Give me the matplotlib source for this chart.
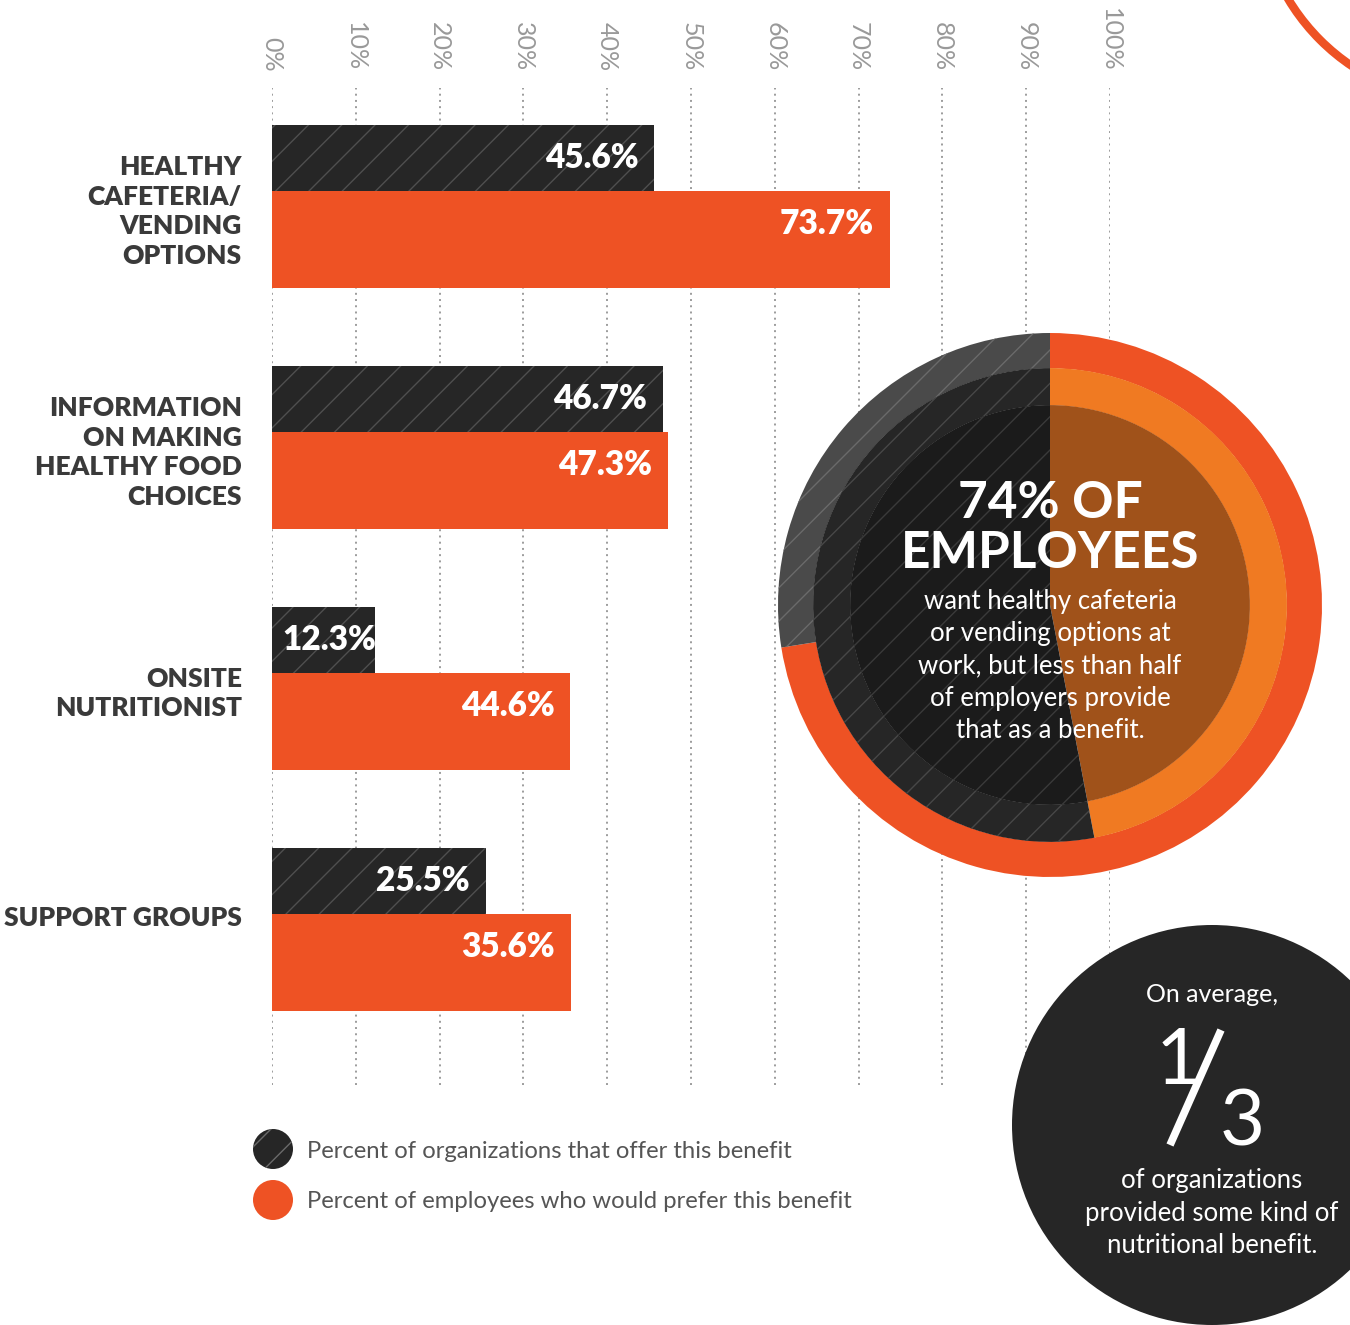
import numpy as np
import matplotlib.pyplot as plt
from matplotlib.patches import Circle

plt.rcParams['font.family'] = ['Lato', 'DejaVu Sans']
plt.rcParams['hatch.linewidth'] = 1.0

# data
categories = ['HEALTHY\nCAFETERIA/\nVENDING\nOPTIONS',
              'INFORMATION\nON MAKING\nHEALTHY FOOD\nCHOICES',
              'ONSITE\nNUTRITIONIST',
              'SUPPORT GROUPS']
org_pct = [45.6, 46.7, 12.3, 25.5]
# bar lengths as drawn in the picture (the onsite bar is drawn shorter than its label)
emp_pct = [73.7, 47.3, 35.6, 35.7]
org_labels = ['45.6%', '46.7%', '12.3%', '25.5%']
emp_labels = ['73.7%', '47.3%', '44.6%', '35.6%']
ticks = list(range(0, 101, 10))
tick_labels = [f'{t}%' for t in ticks]

# donut callout
donut_want = 72.5
donut_offer = 47.0

legend_labels = ['Percent of organizations that offer this benefit',
                 'Percent of employees who would prefer this benefit']

DARK = '#262626'
ORANGE = '#EE5224'
HATCH = '#4f4f4f'
GRAY_TXT = '#999999'
LABEL = '#3a3a3a'

W, H = 1350, 1325
fig = plt.figure(figsize=(W / 100, H / 100), dpi=100)
fig.patch.set_facecolor('white')

# ---- bar chart ----
ax = fig.add_axes([272 / W, 1 - 1085 / H, 838 / W, 997 / H])
y = np.arange(len(categories))
dark_h, org_h = 0.274, 0.402
ax.barh(y - dark_h / 2, org_pct, height=dark_h, color=DARK,
        edgecolor=HATCH, linewidth=0, hatch='/', zorder=3)
ax.barh(y + org_h / 2, emp_pct, height=org_h, color=ORANGE,
        linewidth=0, zorder=3)

for i in range(len(categories)):
    for val, lab, yy in [(org_pct[i], org_labels[i], i - 0.137),
                         (emp_pct[i], emp_labels[i], i + 0.137)]:
        if val < 15:
            ax.text(1.2, yy, lab, ha='left', va='center', color='white',
                    fontsize=24, fontweight='heavy', zorder=4)
        else:
            ax.text(val - 1.9, yy, lab, ha='right', va='center',
                    color='white', fontsize=24, fontweight='heavy', zorder=4)
    off = 0.085 if '\n' in categories[i] else 0.015
    ax.text(-3.6, i + off, categories[i], ha='right', va='center',
            color=LABEL, fontsize=19, fontweight='heavy', linespacing=1.28)

ax.set_xlim(0, 100)
ax.set_ylim(3.71, -0.427)
ax.set_xticks(ticks)
ax.set_xticklabels(tick_labels, rotation=-90, color=GRAY_TXT, fontsize=18)
ax.xaxis.tick_top()
ax.tick_params(axis='x', length=0, pad=12)
ax.set_yticks([])
ax.grid(axis='x', color='#9c9c9c', linestyle=(0, (1, 2.2)), linewidth=1.4,
        zorder=0)
for s in ax.spines.values():
    s.set_visible(False)
ax.set_facecolor('none')

# ---- overlay canvas in pixel coords ----
cv = fig.add_axes([0, 0, 1, 1])
cv.set_xlim(0, W)
cv.set_ylim(H, 0)
cv.axis('off')
cv.patch.set_alpha(0)

# legend
legend_cols = [dict(color=DARK, edgecolor='#6a6a6a', hatch='/'),
               dict(color=ORANGE, edgecolor=ORANGE, hatch=None)]
for k, (lab, st) in enumerate(zip(legend_labels, legend_cols)):
    yy = 1149 + 51 * k
    c = Circle((273, yy), 20, facecolor=st['color'], edgecolor=st['edgecolor'],
               linewidth=0, hatch=st['hatch'])
    cv.add_patch(c)
    cv.text(307, yy + 2, lab, ha='left', va='center', color='#555555',
            fontsize=17.2)

# decorative arc in top-right corner
cv.add_patch(Circle((1470, -110), 212, facecolor='none', edgecolor=ORANGE,
                    linewidth=6))

# small dark circle bottom right
cv.add_patch(Circle((1212, 1125), 200, facecolor=DARK, linewidth=0))
cv.text(1212, 994, 'On average,', ha='center', va='center', color='white',
        fontsize=18)
cv.text(1178, 1063, '1', ha='center', va='center', color='white',
        fontsize=56)
cv.plot([1170, 1221], [1145, 1030], color='white', linewidth=5.5,
        solid_capstyle='butt')
cv.text(1242, 1124, '3', ha='center', va='center', color='white',
        fontsize=56)
cv.text(1212, 1213, 'of organizations\nprovided some kind of\nnutritional benefit.',
        ha='center', va='center', color='white', fontsize=18.5,
        linespacing=1.37)

# ---- donut callout ----
dx = fig.add_axes([778 / W, 1 - 877 / H, 544 / W, 544 / H])
outer = dx.pie([donut_want, 100 - donut_want], radius=1.0, startangle=90,
               counterclock=False, colors=[ORANGE, '#4a4a4a'],
               wedgeprops=dict(width=0.13, linewidth=0))[0]
outer[1].set_hatch('/')
outer[1].set_edgecolor('#6a6a6a')
mid = dx.pie([donut_offer, 100 - donut_offer], radius=0.871, startangle=90,
             counterclock=False, colors=['#F07A22', '#262626'],
             wedgeprops=dict(width=0.137, linewidth=0))[0]
mid[1].set_hatch('/')
mid[1].set_edgecolor('#474747')
inner = dx.pie([donut_offer, 100 - donut_offer], radius=0.735, startangle=90,
               counterclock=False, colors=['#A0521A', '#1b1b1b'],
               wedgeprops=dict(linewidth=0))[0]
inner[1].set_hatch('/')
inner[1].set_edgecolor('#3a3a3a')
dx.set_xlim(-1, 1)
dx.set_ylim(-1, 1)
dx.set_aspect('equal')
dx.axis('off')

dx.text(0, 0.375, '74% OF', ha='center', va='center', color='white',
        fontsize=37, fontweight='bold')
dx.text(0, 0.19, 'EMPLOYEES', ha='center', va='center', color='white',
        fontsize=37, fontweight='bold')
dx.text(0, -0.225, 'want healthy cafeteria\nor vending options at\nwork, but less than half\n'
        'of employers provide\nthat as a benefit.', ha='center', va='center',
        color='white', fontsize=18.5, linespacing=1.37)

fig.savefig('out.png', dpi=100, facecolor='white')
